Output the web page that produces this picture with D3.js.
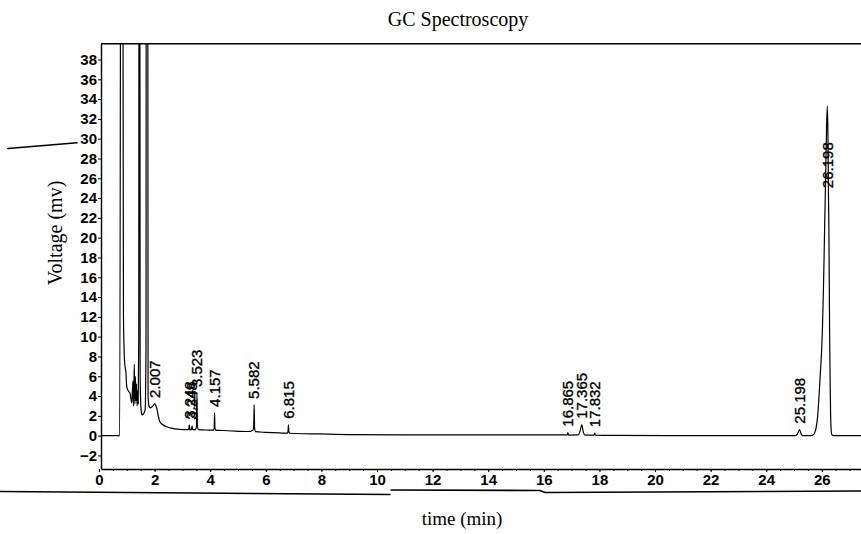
<!DOCTYPE html>
<html>
<head>
<meta charset="utf-8">
<script src="https://cdn.jsdelivr.net/npm/d3@7/dist/d3.min.js"></script>
<style>
  body { margin: 0; background: #fff; }
  svg { display: block; }
  .axis .tick text { font-family: "Liberation Sans", Arial, sans-serif; font-weight: bold; font-size: 15px; fill: #000; }
  .axis path, .axis line { stroke: #000; }
  .serif { font-family: "Liberation Serif", "Times New Roman", serif; fill: #000; }
  .peak-label { font-family: "Liberation Sans", Arial, sans-serif; font-size: 15px; fill: #000; stroke: #000; stroke-width: 0.35px; }
</style>
</head>
<body>
<svg id="chart" width="861" height="534"></svg>
<script>
// Detector trace: retention time (min) and signal (mV). Solvent peaks run off scale.
const traceTime = [
  0.07, 0.745, 0.80, 0.835, 0.88, 0.92, 0.97, 1.00, 1.06, 1.115, 1.18,
  1.22, 1.24, 1.27, 1.29, 1.31, 1.33, 1.35, 1.37, 1.39, 1.41,
  1.43, 1.445, 1.46, 1.48, 1.52, 1.55, 1.60, 1.66, 1.69, 1.705, 1.745, 1.765,
  1.80, 1.85, 1.92, 2.05, 2.09, 2.14, 2.19, 2.30, 2.44, 2.60, 2.91, 3.15,
  3.225, 3.27, 3.325, 3.37, 3.47, 3.505, 3.54, 3.58, 3.80,
  4.12, 4.145, 4.17, 4.20, 4.46, 4.80, 5.31, 5.46, 5.50, 5.545, 5.568, 5.597, 5.63,
  6.00, 6.50, 6.785, 6.802, 6.83, 6.87, 7.95, 9.00, 11.0, 14.0,
  16.84, 16.89, 17.24, 17.30, 17.42, 17.48, 17.81, 17.855, 18.5, 20.5,
  25.05, 25.13, 25.26, 25.32, 25.60, 25.70, 25.78, 25.86, 25.93, 26.02, 26.06,
  26.10, 26.14, 26.17, 26.22, 26.24, 26.255, 26.28, 26.30, 26.315, 26.335, 26.36,
  26.45, 27.60
];
const traceVolt = [
  0, 0, 90, 90, 12, 7.5, 6.3, 4.9, 4.5, 4.3, 3.3,
  5.5, 3.0, 7.2, 3.2, 6.0, 3.5, 5.2, 3.0, 4.5, 3.2,
  10, 90, 90, 6, 2.4, 2.1, 2.2, 2.6, 9, 90, 90, 4,
  3.0, 2.8, 2.95, 3.0, 2.6, 1.9, 1.4, 1.1, 0.9, 0.76, 0.63, 0.6,
  0.6, 0.6, 0.6, 0.6, 0.6, 0.9, 0.9, 0.6, 0.57,
  0.55, 0.8, 0.8, 0.54, 0.52, 0.47, 0.42, 0.43, 0.52, 0.55, 1.3, 0.8, 0.4,
  0.33, 0.27, 0.25, 0.55, 0.4, 0.24, 0.17, 0.11, 0.08, 0.07,
  0.07, 0.06, 0.07, 0.4, 0.35, 0.06, 0.06, 0.05, 0.03, 0.0,
  0.0, 0.2, 0.15, 0.0, 0.0, 0.1, 0.6, 2.3, 5.5, 10.6, 15,
  20.8, 26.5, 31, 30.5, 24, 20.8, 10.6, 5.5, 2.3, 0.6, 0.1,
  0, 0
];

// Integrated peaks: retention time and apex height (mV)
const peakTimes   = [2.007, 3.248, 3.348, 3.523, 4.157, 5.582, 6.815, 16.865, 17.365, 17.832, 25.198, 26.198];
const peakHeights = [3.2,   1.1,   1.0,   4.3,   2.3,   3.1,   1.1,   0.3,    1.1,    0.25,   0.6,    33.3];

const xTickValues = [0, 2, 4, 6, 8, 10, 12, 14, 16, 18, 20, 22, 24, 26];
const xMinorTicks = d3.range(0, 27.5, 0.5);
const yTickValues = [-2, 0, 2, 4, 6, 8, 10, 12, 14, 16, 18, 20, 22, 24, 26, 28, 30, 32, 34, 36, 38];

const chartTitle = "GC Spectroscopy";
const xTitle = "time (min)";
const yTitle = "Voltage (mv)";

const svg = d3.select("#chart");

const plot = { left: 101, top: 43.7, bottom: 469, right: 866.3 };
const x = d3.scaleLinear().domain([0.072, 27.6]).range([plot.left, plot.right]);
const y = d3.scaleLinear().domain([-3.37, 39.6]).range([plot.bottom, plot.top]);

svg.append("defs").append("clipPath").attr("id", "plot-clip")
  .append("rect")
  .attr("x", plot.left).attr("y", plot.top)
  .attr("width", plot.right - plot.left).attr("height", plot.bottom - plot.top);

// Frame: top rule
svg.append("line")
  .attr("x1", plot.left).attr("x2", 861)
  .attr("y1", plot.top).attr("y2", plot.top)
  .attr("stroke", "#000").attr("stroke-width", 1.6);

// Axes
const xAxis = svg.append("g").attr("class", "axis")
  .attr("transform", `translate(0,${plot.bottom})`)
  .call(d3.axisBottom(x).tickValues(xTickValues).tickFormat(d3.format("d"))
    .tickSize(3).tickSizeOuter(0).tickPadding(2));
xAxis.select(".domain").attr("stroke-width", 1.6);

svg.append("g").attr("class", "axis")
  .attr("transform", `translate(0,${plot.bottom})`)
  .call(d3.axisBottom(x).tickValues(xMinorTicks).tickFormat("").tickSize(2).tickSizeOuter(0))
  .select(".domain").remove();

const yAxis = svg.append("g").attr("class", "axis")
  .attr("transform", `translate(${plot.left},0)`)
  .call(d3.axisLeft(y).tickValues(yTickValues).tickFormat(d3.format("d"))
    .tickSize(3).tickSizeOuter(0).tickPadding(1));
yAxis.select(".domain").attr("stroke-width", 1.4);

// Chromatogram trace
const points = traceTime.map((t, i) => [t, traceVolt[i]])
  .concat(peakTimes.map((t, i) => [t, peakHeights[i]]))
  .sort((a, b) => a[0] - b[0]);

const line = d3.line()
  .x(d => x(d[0]))
  .y(d => y(d[1]))
  .curve(d3.curveMonotoneX);

svg.append("g").attr("clip-path", "url(#plot-clip)")
  .append("path")
  .datum(points)
  .attr("d", line)
  .attr("fill", "none")
  .attr("stroke", "#000")
  .attr("stroke-width", 1.2)
  .attr("stroke-linejoin", "round");

// Retention-time labels above each integrated peak
const labelCeiling = 24.4;
svg.append("g").selectAll("text")
  .data(peakTimes)
  .join("text")
  .attr("class", "peak-label")
  .attr("transform", (t, i) =>
    `translate(${x(t)},${y(Math.min(peakHeights[i], labelCeiling)) - 6}) rotate(-90)`)
  .attr("dy", "0.35em")
  .attr("text-anchor", "start")
  .text(t => t.toFixed(3));

// Titles
svg.append("text").attr("class", "serif")
  .attr("x", 458).attr("y", 26)
  .attr("text-anchor", "middle")
  .attr("font-size", 20)
  .text(chartTitle);

svg.append("text").attr("class", "serif")
  .attr("x", 462).attr("y", 525)
  .attr("text-anchor", "middle")
  .attr("font-size", 19)
  .text(xTitle);

svg.append("text").attr("class", "serif")
  .attr("transform", "translate(62,233) rotate(-90)")
  .attr("text-anchor", "middle")
  .attr("font-size", 20)
  .text(yTitle);

// Pen marks on the sheet: pointer stroke at left and the folded rule under the axis
const marks = svg.append("g").attr("fill", "none").attr("stroke", "#000").attr("stroke-linecap", "round");
marks.append("path").attr("d", "M8,148.5 L77,142.7").attr("stroke-width", 1.6);
marks.append("path").attr("d", "M0,491.5 L390,494.5").attr("stroke-width", 1.6);
marks.append("path").attr("d", "M391,490 L540,490.5 L545,492.5 L861,491").attr("stroke-width", 1.6);
</script>
</body>
</html>
